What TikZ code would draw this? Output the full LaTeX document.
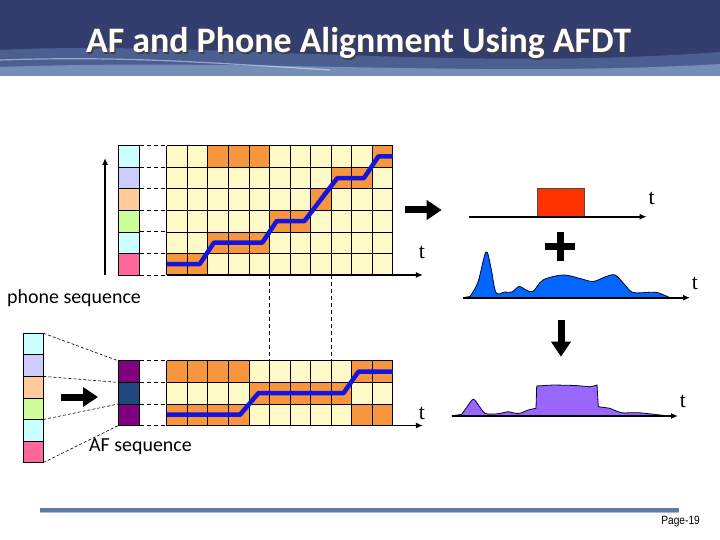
\documentclass[tikz,border=0pt]{standalone}
\usepackage{fontspec}
\setmainfont{Carlito}
\newfontfamily\serifT{Liberation Serif}
\newfontfamily\smallsans{Liberation Sans}
\usetikzlibrary{arrows.meta, positioning, calc}

\definecolor{navy}{RGB}{52,62,110}
\definecolor{swoosh}{RGB}{120,160,210}
\definecolor{cellyellow}{RGB}{255,250,200}
\definecolor{cellorange}{RGB}{247,150,60}
\definecolor{pathblue}{RGB}{20,20,225}
\definecolor{phcyan}{RGB}{204,255,255}
\definecolor{phlav}{RGB}{204,204,255}
\definecolor{phpeach}{RGB}{255,204,153}
\definecolor{phgreen}{RGB}{204,255,153}
\definecolor{phpink}{RGB}{255,102,153}
\definecolor{afpurple}{RGB}{128,0,128}
\definecolor{afblue}{RGB}{31,73,125}
\definecolor{pulsered}{RGB}{255,51,0}
\definecolor{envblue}{RGB}{0,102,255}
\definecolor{mixviolet}{RGB}{153,102,255}
\definecolor{rulesteel}{RGB}{92,122,165}
\definecolor{rulelight}{RGB}{170,185,205}

\begin{document}
\begin{tikzpicture}[
    x=1bp, y=-1bp,
    tlabel/.style={font=\serifT\fontsize{22}{22}\selectfont, inner sep=0pt},
    seqlabel/.style={font=\fontsize{20}{24}\selectfont, inner sep=0pt, anchor=west},
    axis/.style={line width=1.8bp, -{Latex[length=7bp,width=6bp]}},
    rowlink/.style={dash pattern=on 4bp off 3bp, line width=0.9bp},
    fanlink/.style={dash pattern=on 3bp off 2bp, line width=0.6bp},
    cellbox/.style={draw=black, line width=0.8bp},
    fatarrow/.style={line width=7bp, -{Triangle[length=15bp,width=19bp]}},
    alignpath/.style={pathblue, line width=4.5bp, line join=round},
    wave/.style={draw=black!80!blue, line width=0.8bp}
]
    \useasboundingbox (0,0) rectangle (720,540);

    % Title banner
    \fill[navy] (0,0) rectangle (720,76);
    \fill[swoosh, opacity=0.35] (0,50) .. controls (200,40) and (450,72) .. (720,52) -- (720,76) -- (0,76) -- cycle;
    \fill[swoosh!70!white, opacity=0.5] (0,67) .. controls (250,58) and (480,78) .. (720,64) -- (720,76) -- (0,76) -- cycle;
    \draw[white, opacity=0.45, line width=1.2bp] (0,60) .. controls (120,56) and (200,62) .. (330,70);
    \node[font=\bfseries\fontsize{36}{40}\selectfont, text=black!75] at (360,44.5) {AF and Phone Alignment Using AFDT};
    \node[font=\bfseries\fontsize{36}{40}\selectfont, text=white] (title) at (358.5,43) {AF and Phone Alignment Using AFDT};

    % Phone-level grid (top)
    \def\cw{20.55}
    \def\ch{21.55}
    \begin{scope}[shift={(166.7bp,-275bp)}, x=\cw bp, y=\ch bp]
        \foreach \c [count=\r from 0] in {phpink,phcyan,phgreen,phpeach,phlav,phcyan}
            \draw[cellbox, fill=\c] (-2.35,\r) rectangle (-1.32,\r+1);
        \foreach \r in {0,...,6}
            \draw[rowlink] (-1.32,\r) -- (0,\r);
        \fill[cellyellow] (0,0) rectangle (11,6);
        \foreach \cx/\cy in {0/0,1/0,2/1,3/1,4/1,5/2,6/2,7/3,8/4,9/4,2/5,3/5,4/5,10/5}
            \fill[cellorange] (\cx,\cy) rectangle ++(1,1);
        \foreach \k in {0,...,11}
            \draw[line width=0.8bp] (\k,0) -- (\k,6);
        \foreach \k in {0,...,6}
            \draw[line width=0.8bp] (0,\k) -- (11,\k);
        \draw[alignpath] (0,0.5) -- (1.6,0.5) -- (2.3,1.5) -- (4.65,1.5) -- (5.35,2.5)
            -- (6.7,2.5) -- (8.3,4.5) -- (9.6,4.5) -- (10.3,5.5) -- (11,5.5);
        \coordinate (phO) at (0,0);
        \coordinate (phEnd) at (12.47,0);
        \coordinate (phUp) at (-3,0);
        \coordinate (phTop) at (-3,5.43);
        \coordinate (topA) at (5,0);
        \coordinate (topB) at (8,0);
    \end{scope}
    \draw[axis] (phO) -- (phEnd);
    \draw[axis] (phUp) -- (phTop);
    \node[tlabel] (tTopGrid) at (422,252.7) {t};
    \node[seqlabel] (phoneLbl) at (7,298) {phone sequence};

    % AF-level grid (bottom)
    \begin{scope}[shift={(166.7bp,-425.5bp)}, x=\cw bp, y=\ch bp]
        \def\phy{-1.72}
        \foreach \c [count=\r from 0] in {phpink,phcyan,phgreen,phpeach,phlav,phcyan}
            \draw[cellbox, fill=\c] (-6.98,\phy+\r) rectangle (-6,\phy+\r+1);
        \foreach \c [count=\r from 0] in {afpurple,afblue,afpurple}
            \draw[cellbox, fill=\c] (-2.35,\r) rectangle (-1.32,\r+1);
        \foreach \r in {0,...,3} {
            \coordinate (ph\r) at (-6,\phy+2*\r);
            \coordinate (af\r) at (-2.35,\r);
            \draw[fanlink] (ph\r) -- (af\r);
            \draw[rowlink] (-1.32,\r) -- (0,\r);
        }
        \fill[cellyellow] (0,0) rectangle (11,3);
        \foreach \cx/\cy in {0/0,1/0,2/0,3/0,9/0,10/0,4/1,5/1,6/1,7/1,8/1,0/2,1/2,2/2,3/2,9/2,10/2}
            \fill[cellorange] (\cx,\cy) rectangle ++(1,1);
        \foreach \k in {0,...,11}
            \draw[line width=0.8bp] (\k,0) -- (\k,3);
        \foreach \k in {0,...,3}
            \draw[line width=0.8bp] (0,\k) -- (11,\k);
        \draw[alignpath] (0,0.5) -- (3.57,0.5) -- (4.46,1.5) -- (8.6,1.5) -- (9.33,2.5) -- (11,2.5);
        \coordinate (afO) at (0,0);
        \coordinate (afEnd) at (12.47,0);
        \coordinate (botA) at (5,3);
        \coordinate (botB) at (8,3);
    \end{scope}
    \draw[axis] (afO) -- (afEnd);
    \draw[rowlink] (topA) -- (botA);
    \draw[rowlink] (topB) -- (botB);
    \node[tlabel] (tBotGrid) at (422,413) {t};
    \node[seqlabel] (afLbl) at (89,447) {AF sequence};
    \coordinate (fatA) at (61,397);
    \coordinate (fatB) at (98,397);
    \draw[fatarrow] (fatA) -- (fatB);

    % Right side: pulse + envelope -> mixed
    \coordinate (fatC) at (405,210);
    \coordinate (fatD) at (441.7,210);
    \draw[fatarrow] (fatC) -- (fatD);
    \coordinate (pulseO) at (469,216.7);
    \coordinate (pulseEnd) at (646.7,216.7);
    \draw[draw=black!70, fill=pulsered] (536.7,188.3) rectangle (584.3,216.7);
    \draw[axis] (pulseO) -- (pulseEnd);
    \node[tlabel] (tPulse) at (651.7,198) {t};

    \draw[line width=7bp] (545,246.7) -- (575,246.7);
    \draw[line width=7bp] (560,232) -- (560,261.5);

    \coordinate (envO) at (463,297.7);
    \coordinate (envEnd) at (690,297.7);
    \draw[wave, fill=envblue] (463,297.7) -- plot[smooth, tension=0.55] coordinates {
        (470,296.5) (478,282) (486,252) (491,268) (496,292.5) (505,292) (512,292)
        (519,286.5) (526,290) (533,291.5) (543,280) (563,275) (580,278.5) (593,281.5)
        (605,277) (615,275) (625,285) (633,292.5) (650,292.3) (658,292.7) (670,297.7)} -- cycle;
    \draw[axis] (envO) -- (envEnd);
    \node[tlabel] (tEnv) at (695,283) {t};

    \coordinate (fatE) at (561,320);
    \coordinate (fatF) at (561,356.7);
    \draw[fatarrow] (fatE) -- (fatF);

    \coordinate (mixO) at (451.7,416);
    \coordinate (mixEnd) at (678,416);
    \draw[wave, fill=mixviolet] (451.7,416) -- plot[smooth, tension=0.55] coordinates {
        (461.7,414.3) (467,407) (473.3,399.3) (479,406) (485,413.3) (495,414) (502,413)
        (508.3,411.7) (514,413) (520,413.3) (528.3,410) (536,408.3)}
        -- (536.7,386) -- plot[smooth, tension=0.4] coordinates {(553,385) (575,385.5) (590,386.7) (597,385)}
        -- (598.3,406.7) -- plot[smooth, tension=0.55] coordinates {(610,408.3) (621.7,412.7) (638,412.7) (660,415) (670,416)} -- cycle;
    \draw[axis] (mixO) -- (mixEnd);
    \node[tlabel] (tMix) at (683,401) {t};

    % Footer
    \draw[rulesteel, line width=4bp] (40,509.5) -- (679,509.5);
    \draw[rulelight, line width=1.5bp] (40,512.5) -- (679,512.5);
    \node[font=\smallsans\fontsize{12}{13}\selectfont, anchor=east, inner sep=0pt, xscale=0.85] (page) at (700,522) {Page-19};
\end{tikzpicture}
\end{document}
